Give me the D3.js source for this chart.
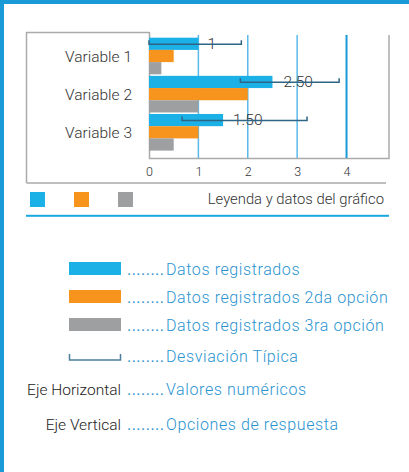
<!DOCTYPE html>
<html>
<head>
<meta charset="utf-8">
<script src="https://cdn.jsdelivr.net/npm/d3@7"></script>
<style>
  body { margin: 0; background: #fff; }
  svg text { font-family: Roboto, "Liberation Sans", sans-serif; font-weight: 300; }
</style>
</head>
<body>
<svg width="409" height="472"></svg>
<script>
// datos del grafico
var categories = ["Variable 1", "Variable 2", "Variable 3"];
var series = ["Datos registrados", "Datos registrados 2da opción", "Datos registrados 3ra opción"];
var registrados = [1, 2.5, 1.5];
var segunda = [0.5, 2, 1];
var tercera = [0.25, 1, 0.5];
var desvLow = [0, 1.85, 0.67];
var desvHigh = [1.87, 3.85, 3.2];
var valueLabels = ["1", "2.50", "1.50"];
var labelPos = [1.27, 3.02, 2.0];
var ticks = [0, 1, 2, 3, 4];

var colors = ["#1bb0e6", "#f7941e", "#9d9fa0"];
var blue = "#1a9bd7";
var textBlue = "#2a93d0";

var svg = d3.select("svg");

// marco azul
svg.append("rect").attr("x", 0).attr("y", 0).attr("width", 409).attr("height", 4).attr("fill", blue);
svg.append("rect").attr("x", 0).attr("y", 0).attr("width", 4).attr("height", 472).attr("fill", blue);

var x = d3.scaleLinear().domain([0, 4.86]).range([149, 389]);
var y = d3.scaleBand().domain(categories).range([37.7, 150.6]).paddingInner(0.04);
var ySub = d3.scaleBand().domain(d3.range(3)).range([0, y.bandwidth()]);

// marco gris del grafico
var frame = svg.append("g").attr("fill", "none").attr("stroke", "#aaa").attr("stroke-width", 1.5);
frame.append("path").attr("d", "M26.5,183 V32.5 H149.5");
frame.append("path").attr("d", "M26.5,183 H386");
frame.append("path").attr("d", "M" + x(4.86) + ",35 V158.5 H149.5 V32");

// lineas de rejilla
svg.selectAll(".grid").data(ticks.slice(1)).enter().append("line")
    .attr("x1", d => x(d)).attr("x2", d => x(d))
    .attr("y1", 35).attr("y2", 158)
    .attr("stroke", d => d == 4 ? "#1a9bd7" : "#5ab9ea")
    .attr("stroke-width", d => d == 4 ? 2 : 1.5);

// eje horizontal
svg.append("g").attr("transform", "translate(0,158)")
    .call(d3.axisBottom(x).tickValues(ticks).tickSize(0).tickPadding(9).tickFormat(d3.format("d")))
    .call(g => g.select(".domain").remove())
    .selectAll("text").attr("font-size", 12.5).attr("fill", "#333").style("font-family", "Roboto, sans-serif");

// barras
var vals = [registrados, segunda, tercera];
var groups = svg.selectAll(".cat").data(categories).enter().append("g")
    .attr("transform", d => "translate(0," + y(d) + ")");
groups.each(function(c, i) {
  d3.select(this).selectAll("rect").data(vals.map(v => v[i])).enter().append("rect")
      .attr("x", x(0)).attr("y", (d, j) => ySub(j))
      .attr("width", d => x(d) - x(0)).attr("height", ySub.bandwidth())
      .attr("fill", (d, j) => colors[j]);
});

// etiquetas de categoria
svg.selectAll(".catlabel").data(categories).enter().append("text")
    .attr("x", 132).attr("y", d => y(d) + y.bandwidth() / 2 + 5.5)
    .attr("text-anchor", "end").attr("font-size", 15.5).attr("fill", "#333")
    .text(d => d);

// etiquetas de valor
svg.selectAll(".vlabel").data(categories).enter().append("text")
    .attr("x", (d, i) => x(labelPos[i])).attr("y", d => y(d) + 11)
    .attr("text-anchor", "middle").attr("font-size", 15.5).attr("fill", "#333")
    .text((d, i) => valueLabels[i]);

// desviacion tipica
var errColor = "#2f6584";
svg.selectAll(".err").data(categories).enter().append("path")
    .attr("d", (d, i) => {
      var yy = y(d) + 6.5;
      return "M" + x(desvLow[i]) + "," + (yy - 4) + "V" + yy + "H" + x(desvHigh[i]) + "V" + (yy - 4);
    })
    .attr("fill", "none").attr("stroke", errColor).attr("stroke-width", 1.5);

// leyenda superior
svg.selectAll(".sw").data(colors).enter().append("rect")
    .attr("x", (d, i) => 30 + i * 44).attr("y", 192).attr("width", 15).attr("height", 15)
    .attr("fill", d => d);
svg.append("text").attr("x", 384).attr("y", 204).attr("text-anchor", "end")
    .attr("font-size", 14.8).attr("fill", "#333").text("Leyenda y datos del gráfico");
svg.append("rect").attr("x", 26).attr("y", 214.8).attr("width", 363).attr("height", 2).attr("fill", "#1aa8e0");

// leyenda inferior
var rowsY = [275, 303, 331];
svg.selectAll(".lg").data(series).enter().append("rect")
    .attr("x", 69).attr("y", (d, i) => rowsY[i] - 13).attr("width", 52).attr("height", 13)
    .attr("fill", (d, i) => colors[i]);
svg.append("path").attr("d", "M69.5,354 V360 H120.5 V354")
    .attr("fill", "none").attr("stroke", "#4a7d9c").attr("stroke-width", 1.5);

var legendRows = [
  {y: 275, left: "", right: series[0]},
  {y: 303, left: "", right: series[1]},
  {y: 331, left: "", right: series[2]},
  {y: 362, left: "", right: "Desviación Típica"},
  {y: 395, left: "Eje Horizontal", right: "Valores numéricos"},
  {y: 430, left: "Eje Vertical", right: "Opciones de respuesta"}
];
var rows = svg.selectAll(".row").data(legendRows).enter().append("g");
rows.append("text").attr("x", 121).attr("y", d => d.y).attr("text-anchor", "end")
    .attr("font-size", 15.5).attr("fill", "#222").text(d => d.left);
rows.append("text").attr("x", 127).attr("y", d => d.y)
    .attr("font-size", 16).attr("fill", textBlue).style("font-weight", 400)
    .attr("textLength", 37).attr("lengthAdjust", "spacing")
    .text("........");
rows.append("text").attr("x", 166).attr("y", d => d.y)
    .attr("font-size", 16).attr("letter-spacing", 0.6).attr("fill", textBlue).text(d => d.right);
</script>
</body>
</html>
